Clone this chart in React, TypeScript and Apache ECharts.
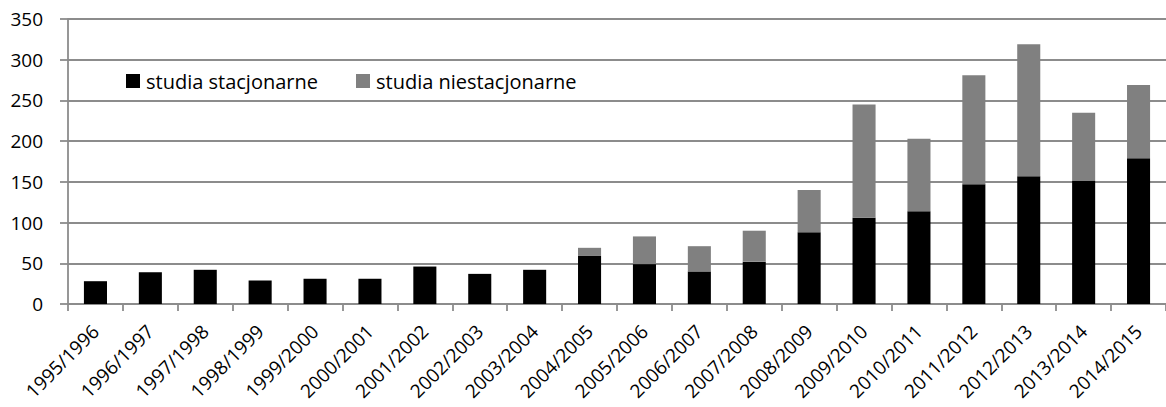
import React, { useEffect, useRef } from "react";
import * as echarts from "echarts";

const categories = [
  "1995/1996", "1996/1997", "1997/1998", "1998/1999", "1999/2000",
  "2000/2001", "2001/2002", "2002/2003", "2003/2004", "2004/2005",
  "2005/2006", "2006/2007", "2007/2008", "2008/2009", "2009/2010",
  "2010/2011", "2011/2012", "2012/2013", "2013/2014", "2014/2015",
];
const stacjonarne = [28, 39, 42, 29, 31, 31, 46, 37, 42, 59, 49, 40, 52, 88, 106, 114, 147, 157, 151, 179];
const niestacjonarne = [0, 0, 0, 0, 0, 0, 0, 0, 0, 10, 34, 31, 38, 52, 139, 89, 134, 162, 84, 90];
const seriesNames = ["studia stacjonarne", "studia niestacjonarne"];
const yMax = 350;
const yInterval = 50;

const FONT = "'Open Sans', sans-serif";
const GRID = "#8c8c8c";

export default function App() {
  const ref = useRef<HTMLDivElement>(null);
  useEffect(() => {
    if (!ref.current) return;
    const chart = echarts.init(ref.current, null, { renderer: "svg" });
    chart.setOption({
      animation: false,
      backgroundColor: "#ffffff",
      grid: { left: 68, right: -6, top: 19, bottom: 103, containLabel: false },
      legend: {
        left: 121,
        top: 66,
        itemGap: 38,
        itemWidth: 14,
        itemHeight: 14,
        icon: "rect",
        textStyle: { fontFamily: FONT, fontSize: 20, color: "#000", padding: [0, 0, 0, 1] },
        data: seriesNames,
      },
      xAxis: {
        type: "category",
        data: categories,
        axisLine: { lineStyle: { color: GRID, width: 1.8 } },
        axisTick: { show: true, length: 7, lineStyle: { color: GRID, width: 1.8 } },
        axisLabel: {
          rotate: 45,
          interval: 0,
          margin: 24,
          fontFamily: FONT,
          fontSize: 19,
          color: "#000",
        },
      },
      yAxis: {
        type: "value",
        min: 0,
        max: yMax,
        interval: yInterval,
        axisLine: { show: true, lineStyle: { color: GRID, width: 1.8 } },
        axisTick: { show: true, length: 8, lineStyle: { color: GRID, width: 1.8 } },
        splitLine: { lineStyle: { color: GRID, width: 1.8 } },
        axisLabel: { fontFamily: FONT, fontSize: 19, color: "#000", margin: 25 },
      },
      series: [
        {
          name: seriesNames[0],
          type: "bar",
          stack: "total",
          data: stacjonarne,
          barWidth: "42%",
          itemStyle: { color: "#000000" },
        },
        {
          name: seriesNames[1],
          type: "bar",
          stack: "total",
          data: niestacjonarne,
          barWidth: "42%",
          itemStyle: { color: "#808080" },
        },
      ],
    });
    return () => chart.dispose();
  }, []);
  return (
    <div
      ref={ref}
      style={{ position: "fixed", left: 0, top: 0, width: 1166, height: 407 }}
    />
  );
}
